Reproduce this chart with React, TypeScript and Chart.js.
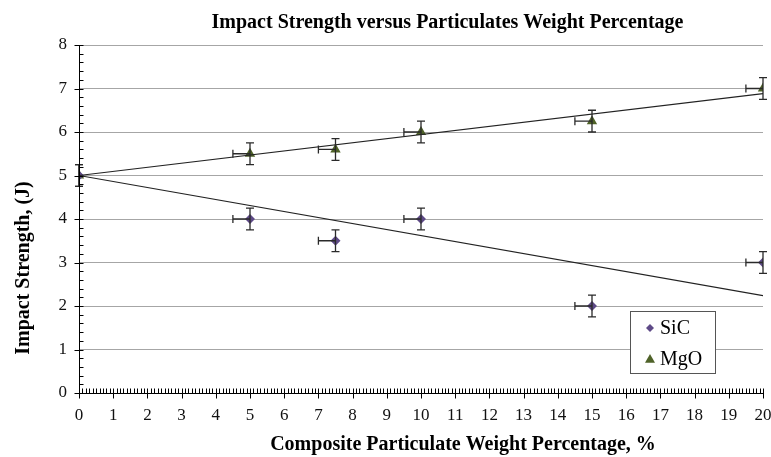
import React, { useEffect, useRef } from "react";
import { Chart, registerables } from "chart.js";

Chart.register(...registerables);

const xSiC = [0, 5, 7.5, 10, 15, 20];
const ySiC = [5, 4, 3.5, 4, 2, 3];
const xMgO = [0, 5, 7.5, 10, 15, 20];
const yMgO = [5, 5.5, 5.6, 6, 6.25, 7];
const xErrSiC = [0, 0.5, 0.5, 0.5, 0.5, 0.5];
const yErrSiC = [0.25, 0.25, 0.25, 0.25, 0.25, 0.25];
const xErrMgO = [0, 0.5, 0.5, 0.5, 0.5, 0.5];
const yErrMgO = [0.25, 0.25, 0.25, 0.25, 0.25, 0.25];
const trendX = [0, 20];
const trendSiC = [5, 2.24];
const trendMgO = [5, 6.88];
const seriesNames = ["SiC", "MgO"];
const titleText = "Impact Strength versus Particulates Weight Percentage";
const xTitle = "Composite Particulate Weight Percentage, %";
const yTitle = "Impact Strength, (J)";

const FONT = '"Liberation Serif", "Times New Roman", serif';
const SIC_COLOR = "#5E4A87";
const MGO_COLOR = "#4F6228";

const errorBarPlugin = {
  id: "errorBars",
  afterDatasetsDraw(chart: any) {
    const ctx = chart.ctx;
    const xs = chart.scales.x;
    const ys = chart.scales.y;
    ctx.save();
    ctx.strokeStyle = "#2a2a2a";
    ctx.lineWidth = 1.3;
    chart.data.datasets.forEach((ds: any) => {
      if (!ds.errX) return;
      ds.data.forEach((p: any, i: number) => {
        const px = xs.getPixelForValue(p.x);
        const py = ys.getPixelForValue(p.y);
        const ey = ds.errY[i];
        if (ey) {
          const t = ys.getPixelForValue(p.y + ey);
          const b = ys.getPixelForValue(p.y - ey);
          ctx.beginPath();
          ctx.moveTo(px, t);
          ctx.lineTo(px, b);
          ctx.moveTo(px - 4, t);
          ctx.lineTo(px + 4, t);
          ctx.moveTo(px - 4, b);
          ctx.lineTo(px + 4, b);
          ctx.stroke();
        }
        const ex = ds.errX[i];
        if (ex) {
          const l = xs.getPixelForValue(p.x - ex);
          ctx.beginPath();
          ctx.moveTo(l, py);
          ctx.lineTo(px, py);
          ctx.moveTo(l, py - 4);
          ctx.lineTo(l, py + 4);
          ctx.stroke();
        }
      });
    });
    ctx.restore();
  },
};

const decorPlugin = {
  id: "decor",
  afterDraw(chart: any) {
    const ctx = chart.ctx;
    const xs = chart.scales.x;
    const ys = chart.scales.y;
    const area = chart.chartArea;
    ctx.save();
    ctx.strokeStyle = "#000";
    ctx.lineWidth = 1;
    ctx.beginPath();
    ctx.moveTo(area.left + 0.5, area.top);
    ctx.lineTo(area.left + 0.5, area.bottom + 0.5);
    ctx.lineTo(area.right, area.bottom + 0.5);
    ctx.stroke();
    ctx.beginPath();
    for (let i = 0; i <= 40; i++) {
      const v = i / 5;
      const y = Math.round(ys.getPixelForValue(v)) + 0.5;
      const major = i % 5 === 0;
      ctx.moveTo(area.left + 0.5 - (major ? 5 : 0), y);
      ctx.lineTo(area.left + 0.5 + 4, y);
    }
    for (let i = 0; i <= 200; i++) {
      const v = i / 10;
      const x = Math.round(xs.getPixelForValue(v)) + 0.5;
      const major = i % 10 === 0;
      ctx.moveTo(x, area.bottom + 0.5 + (major ? 5 : 0));
      ctx.lineTo(x, area.bottom + 0.5 - 5);
    }
    ctx.stroke();

    ctx.fillStyle = "#000";
    ctx.textAlign = "center";
    ctx.textBaseline = "middle";
    ctx.font = `bold 20px ${FONT}`;
    ctx.fillText(titleText, 447.5, 23);
    ctx.fillText(xTitle, 463, 445);
    ctx.save();
    ctx.translate(24, 268);
    ctx.rotate(-Math.PI / 2);
    ctx.fillText(yTitle, 0, 0);
    ctx.restore();

    const lx = 630.5, ly = 311.5, lw = 85, lh = 62;
    ctx.fillStyle = "#fff";
    ctx.fillRect(lx, ly, lw, lh);
    ctx.strokeStyle = "#555";
    ctx.lineWidth = 1;
    ctx.strokeRect(lx, ly, lw, lh);
    ctx.font = `20px ${FONT}`;
    ctx.textAlign = "left";
    const draw = (style: string, color: string, cy: number, label: string, r: number) => {
      ctx.fillStyle = color;
      ctx.beginPath();
      if (style === "diamond") {
        ctx.moveTo(650, cy - r);
        ctx.lineTo(650 + r, cy);
        ctx.lineTo(650, cy + r);
        ctx.lineTo(650 - r, cy);
      } else {
        ctx.moveTo(650, cy - r);
        ctx.lineTo(650 + r, cy + r * 0.75);
        ctx.lineTo(650 - r, cy + r * 0.75);
      }
      ctx.closePath();
      ctx.fill();
      ctx.fillStyle = "#000";
      ctx.fillText(label, 660, cy + 1);
    };
    draw("diamond", SIC_COLOR, 328, seriesNames[0], 4);
    draw("triangle", MGO_COLOR, 359, seriesNames[1], 5);
    ctx.restore();
  },
};

export default function App() {
  const ref = useRef<HTMLCanvasElement | null>(null);
  useEffect(() => {
    if (!ref.current) return;
    const chart = new Chart(ref.current, {
      type: "scatter",
      data: {
        datasets: [
          {
            type: "line",
            label: "SiC trend",
            data: trendX.map((x, i) => ({ x, y: trendSiC[i] })),
            borderColor: "#222",
            borderWidth: 1.2,
            pointRadius: 0,
            fill: false,
          } as any,
          {
            type: "line",
            label: "MgO trend",
            data: trendX.map((x, i) => ({ x, y: trendMgO[i] })),
            borderColor: "#222",
            borderWidth: 1.2,
            pointRadius: 0,
            fill: false,
          } as any,
          {
            label: seriesNames[0],
            data: xSiC.map((x, i) => ({ x, y: ySiC[i] })),
            errX: xErrSiC,
            errY: yErrSiC,
            pointStyle: "rectRot",
            pointRadius: 5,
            backgroundColor: SIC_COLOR,
            borderColor: SIC_COLOR,
            borderWidth: 0,
          } as any,
          {
            label: seriesNames[1],
            data: xMgO.map((x, i) => ({ x, y: yMgO[i] })),
            errX: xErrMgO,
            errY: yErrMgO,
            pointStyle: "triangle",
            pointRadius: 6,
            backgroundColor: MGO_COLOR,
            borderColor: MGO_COLOR,
            borderWidth: 0,
          } as any,
        ],
      },
      options: {
        animation: false,
        responsive: true,
        maintainAspectRatio: false,
        layout: { padding: { top: 45, right: 8, left: 0, bottom: 0 } },
        plugins: {
          legend: { display: false },
          tooltip: { enabled: false },
          title: { display: false },
        },
        scales: {
          x: {
            type: "linear",
            min: 0,
            max: 20,
            afterFit: (s: any) => {
              s.height = 64;
              s.paddingLeft = 0;
              s.paddingRight = 0;
            },
            ticks: {
              stepSize: 1,
              autoSkip: false,
              maxRotation: 0,
              padding: 12,
              color: "#111",
              font: { family: FONT, size: 17 },
            },
            grid: { display: false, drawTicks: false },
            border: { display: false },
          },
          y: {
            type: "linear",
            min: 0,
            max: 8,
            afterFit: (s: any) => {
              s.width = 79;
              s.paddingTop = 0;
              s.paddingBottom = 0;
            },
            ticks: {
              stepSize: 1,
              padding: 12,
              color: "#111",
              font: { family: FONT, size: 17 },
            },
            grid: { color: "#a6a6a6", lineWidth: 1, drawTicks: false },
            border: { display: false },
          },
        },
      },
      plugins: [errorBarPlugin, decorPlugin],
    } as any);
    return () => chart.destroy();
  }, []);
  return (
    <div style={{ position: "absolute", left: 0, top: 0, width: 771, height: 457, background: "#fff" }}>
      <canvas ref={ref} />
    </div>
  );
}
